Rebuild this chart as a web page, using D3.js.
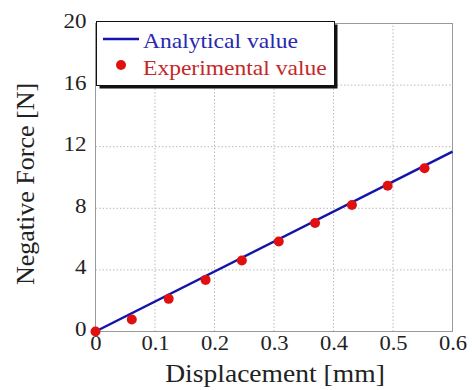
<!DOCTYPE html>
<html>
<head>
<meta charset="utf-8">
<script src="https://cdn.jsdelivr.net/npm/d3@7"></script>
<style>
  body { margin: 0; background: #fff; }
  text { font-family: "Liberation Serif", "Times New Roman", serif; }
</style>
</head>
<body>
<svg id="chart" width="472" height="390"></svg>
<script>
// analytical line (straight through origin)
const lineX = [0, 0.6];
const lineY = [0, 11.68];

// experimental points
const expX = [0, 0.061, 0.123, 0.185, 0.246, 0.308, 0.369, 0.431, 0.491, 0.553];
const expY = [0, 0.78, 2.12, 3.35, 4.61, 5.84, 7.05, 8.22, 9.47, 10.6];

const xTicks = [0, 0.1, 0.2, 0.3, 0.4, 0.5, 0.6];
const yTicks = [0, 4, 8, 12, 16, 20];

const legendLabels = ['Analytical value', 'Experimental value'];

const margin = {left: 95.5, right: 19.5, top: 23.5, bottom: 58.5};
const width = 472, height = 390;

const svg = d3.select('#chart');

// the source picture is a bit wider than tall, widen glyphs a little
function stretch(sel, k) {
    sel.each(function() {
        const w = this.getComputedTextLength();
        d3.select(this).attr('textLength', w * k).attr('lengthAdjust', 'spacingAndGlyphs');
    });
}

const x = d3.scaleLinear().domain([0, 0.6]).range([margin.left, width - margin.right]);
const y = d3.scaleLinear().domain([0, 20]).range([height - margin.bottom, margin.top]);

// grid
const grid = svg.append('g').attr('stroke', '#bbb').attr('stroke-width', 1).attr('stroke-dasharray', '1.5,2');
grid.selectAll('line.gx')
    .data(xTicks.slice(1, -1))
    .join('line')
    .attr('x1', d => x(d)).attr('x2', d => x(d))
    .attr('y1', y(0)).attr('y2', y(20));
grid.selectAll('line.gy')
    .data(yTicks.slice(1, -1))
    .join('line')
    .attr('y1', d => y(d)).attr('y2', d => y(d))
    .attr('x1', x(0)).attr('x2', x(0.6));

// frame
svg.append('rect')
    .attr('x', x(0)).attr('y', y(20))
    .attr('width', x(0.6) - x(0)).attr('height', y(0) - y(20))
    .attr('fill', 'none').attr('stroke', '#999').attr('stroke-width', 1);

// axes (labels only)
const xAxis = svg.append('g')
    .attr('transform', `translate(0,${y(0)})`)
    .call(d3.axisBottom(x).tickValues(xTicks).tickFormat(d => d === 0 ? '0' : d3.format('.1f')(d)).tickSize(0).tickPadding(4));
xAxis.select('.domain').remove();
xAxis.selectAll('text').attr('font-size', 20).attr('fill', '#222').attr('font-family', '"Liberation Serif", serif')
    .call(stretch, 1.13);

const yAxis = svg.append('g')
    .attr('transform', `translate(${x(0)},0)`)
    .call(d3.axisLeft(y).tickValues(yTicks).tickSize(0).tickPadding(9));
yAxis.select('.domain').remove();
yAxis.selectAll('text').attr('font-size', 20).attr('fill', '#222').attr('font-family', '"Liberation Serif", serif')
    .attr('dy', '0.2em')
    .call(stretch, 1.15);

// analytical line
svg.append('path')
    .datum(lineX.map((d, i) => [d, lineY[i]]))
    .attr('d', d3.line().x(d => x(d[0])).y(d => y(d[1])))
    .attr('fill', 'none')
    .attr('stroke', '#1414aa')
    .attr('stroke-width', 2.5);

// experimental points
svg.append('g')
    .selectAll('circle')
    .data(expX.map((d, i) => [d, expY[i]]))
    .join('circle')
    .attr('cx', d => x(d[0]))
    .attr('cy', d => y(d[1]))
    .attr('r', 5)
    .attr('fill', '#e01010');

// legend with shadow
const lg = svg.append('g');
lg.append('rect')
    .attr('x', 99.5).attr('y', 24.5).attr('width', 238).attr('height', 64)
    .attr('fill', '#111');
lg.append('rect')
    .attr('x', 96.5).attr('y', 21.5).attr('width', 238).attr('height', 64)
    .attr('fill', '#fff').attr('stroke', '#111').attr('stroke-width', 1);
lg.append('line')
    .attr('x1', 103).attr('x2', 139).attr('y1', 39).attr('y2', 39)
    .attr('stroke', '#1414aa').attr('stroke-width', 2.5);
lg.append('circle')
    .attr('cx', 121).attr('cy', 65).attr('r', 5).attr('fill', '#e01010');
lg.append('text')
    .attr('x', 143).attr('y', 48)
    .attr('font-size', 22).attr('fill', '#2828b0')
    .text(legendLabels[0])
    .call(stretch, 1.07);
lg.append('text')
    .attr('x', 143).attr('y', 75)
    .attr('font-size', 22).attr('fill', '#c42828')
    .text(legendLabels[1])
    .call(stretch, 1.07);

// axis titles
svg.append('text')
    .attr('x', 275).attr('y', 382)
    .attr('text-anchor', 'middle')
    .attr('font-size', 26).attr('fill', '#222')
    .text('Displacement [mm]')
    .call(stretch, 1.06);
svg.append('text')
    .attr('transform', `translate(34,184) rotate(-90)`)
    .attr('text-anchor', 'middle')
    .attr('font-size', 26).attr('fill', '#222')
    .text('Negative Force [N]');
</script>
</body>
</html>
